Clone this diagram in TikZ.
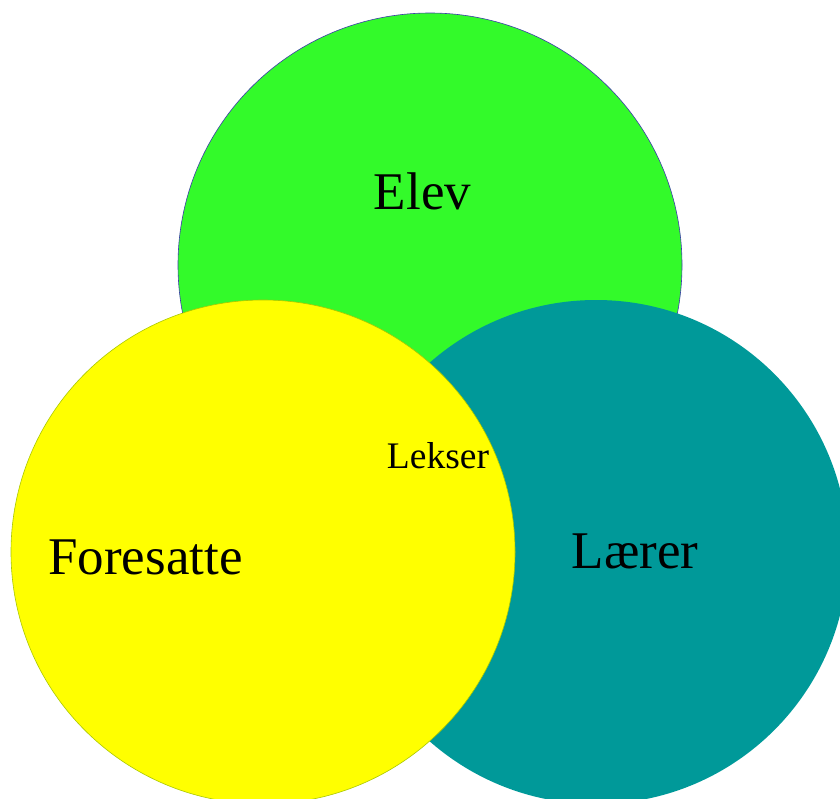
\documentclass[tikz,border=0pt]{standalone}
\usepackage{fontspec}
\setmainfont{Liberation Serif}
\definecolor{elevgreen}{RGB}{51,250,42}
\definecolor{elevline}{RGB}{60,60,170}
\definecolor{teal2}{RGB}{0,153,153}
\definecolor{yel}{RGB}{255,255,0}
\definecolor{yelline}{RGB}{170,200,0}
\tikzset{
  circ/.style={circle, minimum size=504pt, inner sep=0pt},
  bigtext/.style={inner sep=0pt, anchor=base, font=\fontsize{53}{60}\selectfont},
  smalltext/.style={inner sep=0pt, anchor=base, font=\fontsize{37.5}{44}\selectfont}
}
\begin{document}
\begin{tikzpicture}[x=1pt,y=-1pt]
\useasboundingbox (0,0) rectangle (840,798);
\begin{scope}
\clip (0,0) rectangle (840,798);
\node[circ, fill=elevgreen, draw=elevline, line width=0.6pt] (elev) at (430,265) {};
\node[circ, fill=teal2] (laerer) at (596,552) {};
\node[circ, fill=yel, draw=yelline, line width=0.6pt] (foresatte) at (263,552) {};
\end{scope}
\node[bigtext] (telev) at (422.5,209) {Elev};
\node[bigtext] (tfore) at (145.5,574) {Foresatte};
\node[bigtext] (tlaerer) at (635,568) {Lærer};
\node[smalltext] (tlekser) at (438,468) {Lekser};
\end{tikzpicture}
\end{document}
